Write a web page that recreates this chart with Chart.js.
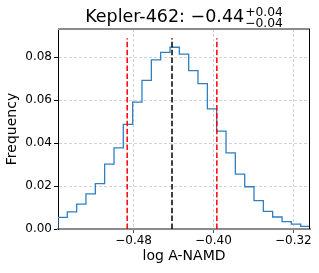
<!DOCTYPE html>
<html>
<head>
<meta charset="utf-8">
<script src="https://cdn.jsdelivr.net/npm/chart.js@4.4.0/dist/chart.umd.min.js"></script>
<style>
  html, body { margin: 0; padding: 0; background: #fff; }
  #wrap { width: 319px; height: 273px; }
</style>
</head>
<body>
<div id="wrap"><canvas id="c" width="319" height="273"></canvas></div>
<script>
// ---- data ----
const binEdges = [-0.5557, -0.5464, -0.5370, -0.5277, -0.5183, -0.5090, -0.4996, -0.4903,
  -0.4809, -0.4716, -0.4622, -0.4529, -0.4435, -0.4342, -0.4248, -0.4155, -0.4061,
  -0.3968, -0.3874, -0.3781, -0.3687, -0.3594, -0.3500, -0.3407, -0.3313, -0.3220,
  -0.3126, -0.3033];
const frequency = [0.0054, 0.0080, 0.0116, 0.0164, 0.0211, 0.0302, 0.0378, 0.0488,
  0.0591, 0.0693, 0.0788, 0.0823, 0.0847, 0.0815, 0.0738, 0.0677, 0.0560, 0.0456,
  0.0355, 0.0256, 0.0197, 0.0132, 0.0082, 0.0056, 0.0034, 0.0023, 0.0012];
const xTicks = [-0.48, -0.40, -0.32];
const yTicks = [0.00, 0.02, 0.04, 0.06, 0.08];
const medianValue = -0.4415;
const lowerValue = -0.4864;
const upperValue = -0.3966;
const vlineTop = 0.0889;
const xRange = [-0.5557, -0.3033];
const yRange = [0, 0.0932];
const titleMain = 'Kepler-462: \u22120.44';
const titleSup = '+0.04';
const titleSub = '\u22120.04';

// ---- build datasets ----
const histPoints = [{x: binEdges[0], y: 0}];
frequency.forEach((f, i) => histPoints.push({x: binEdges[i], y: f}));
histPoints.push({x: binEdges[binEdges.length - 1], y: frequency[frequency.length - 1]});
histPoints.push({x: binEdges[binEdges.length - 1], y: 0});

function vline(v, color) {
  return {
    data: [{x: v, y: 0}, {x: v, y: vlineTop}],
    borderColor: color, borderWidth: 1.5, borderDash: [5.5, 2.4],
    pointRadius: 0, fill: false, order: 1
  };
}

const fmt = v => v.toFixed(2).replace('-', '\u2212');
const FONT = '"DejaVu Sans", sans-serif';

const framePlugin = {
  id: 'frame',
  afterDraw(chart) {
    const {ctx, chartArea: a} = chart;
    ctx.save();
    ctx.strokeStyle = '#8c8c8c';
    ctx.lineWidth = 2;
    ctx.beginPath(); ctx.moveTo(a.left, a.top); ctx.lineTo(a.right, a.top); ctx.stroke();
    ctx.strokeStyle = '#000';
    ctx.lineWidth = 1;
    ctx.beginPath(); ctx.moveTo(a.right - 0.5, a.top); ctx.lineTo(a.right - 0.5, a.bottom); ctx.stroke();
    // title with super/subscript
    ctx.fillStyle = '#000';
    ctx.textBaseline = 'alphabetic';
    ctx.textAlign = 'left';
    ctx.font = '17.5px ' + FONT;
    const mw = ctx.measureText(titleMain).width;
    ctx.font = '12.3px ' + FONT;
    const sw = Math.max(ctx.measureText(titleSup).width, ctx.measureText(titleSub).width);
    const total = mw + 1 + sw;
    const x0 = (a.left + a.right) / 2 - total / 2;
    ctx.font = '17.5px ' + FONT;
    ctx.fillText(titleMain, x0, 22);
    ctx.font = '12.3px ' + FONT;
    ctx.fillText(titleSup, x0 + mw + 1, 15.5);
    ctx.fillText(titleSub, x0 + mw + 1, 26.5);
    ctx.restore();
  }
};

new Chart(document.getElementById('c'), {
  type: 'line',
  data: {
    datasets: [
      vline(lowerValue, '#ff0000'),
      vline(medianValue, '#000000'),
      vline(upperValue, '#ff0000'),
      {
        data: histPoints, stepped: 'before',
        borderColor: '#2f7fc1', borderWidth: 1.3,
        pointRadius: 0, fill: false, order: 2
      }
    ]
  },
  options: {
    responsive: false,
    animation: false,
    devicePixelRatio: 1,
    layout: { padding: { top: 29, right: 9, left: 0, bottom: 0 } },
    plugins: { legend: { display: false }, title: { display: false }, tooltip: { enabled: false } },
    scales: {
      x: {
        type: 'linear', min: xRange[0], max: xRange[1],
        afterBuildTicks: s => { s.ticks = xTicks.map(v => ({value: v})); },
        afterFit: s => { s.height = 44; },
        ticks: { callback: fmt, color: '#000', font: { family: FONT, size: 12 }, padding: 1, maxRotation: 0, autoSkip: false },
        grid: { color: 'rgba(0,0,0,0.17)', tickLength: 4, tickColor: '#555', tickWidth: 1, tickBorderDash: [] },
        border: { color: '#8c8c8c', width: 2, dash: [3, 2] },
        title: { display: true, text: 'log A-NAMD', color: '#000', font: { family: FONT, size: 14 }, padding: { top: 0, bottom: 8 } }
      },
      y: {
        type: 'linear', min: yRange[0], max: yRange[1],
        afterBuildTicks: s => { s.ticks = yTicks.map(v => ({value: v})); },
        afterFit: s => { s.width = 58; },
        ticks: { callback: v => v.toFixed(2), color: '#000', font: { family: FONT, size: 12 }, padding: 2 },
        grid: { color: 'rgba(0,0,0,0.17)', tickLength: 4, tickColor: '#000', tickWidth: 1, tickBorderDash: [] },
        border: { color: '#000', width: 1, dash: [3, 2] },
        title: { display: true, text: 'Frequency', color: '#000', font: { family: FONT, size: 14 }, padding: { top: 4, bottom: 0 } }
      }
    }
  },
  plugins: [framePlugin]
});
</script>
</body>
</html>
